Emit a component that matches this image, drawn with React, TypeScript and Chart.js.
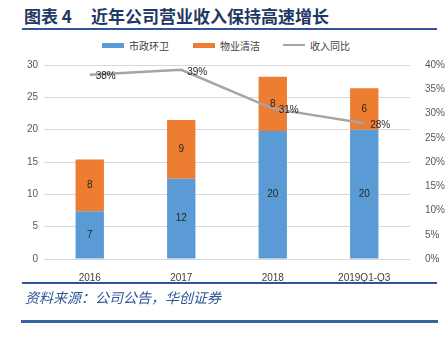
import React, { useEffect, useRef } from "react";
import { Chart, registerables } from "chart.js";

Chart.register(...registerables);

const categories = ["2016", "2017", "2018", "2019Q1-Q3"];
const municipalValues = [7.4, 12.4, 19.8, 20.0];
const propertyValues = [8.0, 9.1, 8.4, 6.4];
const growthValues = [38, 39, 31, 28];
const leftTicks = [0, 5, 10, 15, 20, 25, 30];
const rightTicks = [0, 5, 10, 15, 20, 25, 30, 35, 40];
const seriesNames = ["市政环卫", "物业清洁", "收入同比"];

const BLUE = "#5B9BD5";
const ORANGE = "#ED7D31";
const GRAY = "#A5A5A5";
const FONT = "'Liberation Sans', 'Noto Sans CJK SC', sans-serif";

const labelPlugin = {
  id: "labels",
  afterDatasetsDraw(chart: any) {
    const ctx = chart.ctx;
    ctx.save();
    ctx.font = `10px ${FONT}`;
    ctx.fillStyle = "#262626";
    chart.data.datasets.forEach((ds: any, di: number) => {
      const meta = chart.getDatasetMeta(di);
      meta.data.forEach((el: any, i: number) => {
        const v = ds.data[i];
        if (ds.type === "line") {
          ctx.textAlign = "left";
          ctx.textBaseline = "middle";
          ctx.fillText(Math.round(v) + "%", el.x + 6, el.y + 2);
        } else {
          const props = el.getProps(["x", "y", "base"], true);
          ctx.textAlign = "center";
          ctx.textBaseline = "middle";
          ctx.fillText(String(Math.round(v)), props.x, (props.y + props.base) / 2);
        }
      });
    });
    ctx.restore();
  },
};

export default function App() {
  const ref = useRef<HTMLCanvasElement>(null);
  useEffect(() => {
    document.body.style.margin = "0";
    const chart = new Chart(ref.current!, {
      type: "bar",
      data: {
        labels: categories,
        datasets: [
          {
            type: "line",
            label: seriesNames[2],
            data: growthValues,
            yAxisID: "y1",
            borderColor: GRAY,
            backgroundColor: GRAY,
            borderWidth: 2.5,
            pointRadius: 0,
            tension: 0,
            order: 0,
          } as any,
          {
            type: "bar",
            label: seriesNames[0],
            data: municipalValues,
            backgroundColor: BLUE,
            yAxisID: "y",
            stack: "s",
            barPercentage: 0.62,
            categoryPercentage: 0.5,
            order: 1,
          },
          {
            type: "bar",
            label: seriesNames[1],
            data: propertyValues,
            backgroundColor: ORANGE,
            yAxisID: "y",
            stack: "s",
            barPercentage: 0.62,
            categoryPercentage: 0.5,
            order: 1,
          },
        ],
      },
      options: {
        animation: false,
        responsive: false,
        maintainAspectRatio: false,
        layout: { padding: { top: 10, left: 0, right: 0, bottom: 0 } },
        plugins: { legend: { display: false }, tooltip: { enabled: false } },
        scales: {
          x: {
            stacked: true,
            grid: { display: false },
            border: { display: false },
            ticks: { color: "#404040", font: { size: 10, family: FONT }, padding: 5 },
            afterFit: (s: any) => { s.height = 29; },
          },
          y: {
            stacked: true,
            min: 0,
            max: 30,
            position: "left",
            afterBuildTicks: (s: any) => { s.ticks = leftTicks.map((v) => ({ value: v })); },
            ticks: { color: "#595959", font: { size: 10, family: FONT }, padding: 6 },
            grid: { color: "#D9D9D9", drawTicks: false, lineWidth: 1 },
            border: { display: false },
            afterFit: (s: any) => { s.width = 44; },
          },
          y1: {
            min: 0,
            max: 40,
            position: "right",
            afterBuildTicks: (s: any) => { s.ticks = rightTicks.map((v) => ({ value: v })); },
            ticks: { color: "#595959", font: { size: 10, family: FONT }, padding: 7, callback: (v: any) => v + "%" },
            grid: { display: false },
            border: { display: false },
            afterFit: (s: any) => { s.width = 36; },
          },
        },
      },
      plugins: [labelPlugin],
    });
    return () => chart.destroy();
  }, []);

  const legendItem = (color: string, name: string, isLine: boolean, left: number) => (
    <div style={{ position: "absolute", left, top: 38, height: 14, display: "flex", alignItems: "center", fontSize: 10, color: "#404040", fontFamily: "'Noto Sans CJK SC', sans-serif" }}>
      <div style={{ width: 22, height: isLine ? 2 : 5, background: color, marginRight: 5 }} />
      <span>{name}</span>
    </div>
  );

  const titleStyle: React.CSSProperties = { position: "absolute", top: 5, fontSize: 17, fontWeight: 700, color: "#1F3864", fontFamily: "'Noto Sans CJK SC', serif", whiteSpace: "pre", lineHeight: "22px" };

  return (
    <div style={{ position: "fixed", left: 0, top: 0, width: 446, height: 338, background: "#fff", overflow: "hidden" }}>
      <div style={{ ...titleStyle, left: 24 }}>图表 4</div>
      <div style={{ ...titleStyle, left: 91 }}>近年公司营业收入保持高速增长</div>
      <div style={{ position: "absolute", left: 22, top: 28, width: 415, height: 2, background: "#2F5597" }} />
      {legendItem(BLUE, seriesNames[0], false, 102)}
      {legendItem(ORANGE, seriesNames[1], false, 193)}
      {legendItem(GRAY, seriesNames[2], true, 283)}
      <div style={{ position: "absolute", left: 0, top: 52 }}>
        <canvas ref={ref} width={446} height={236} style={{ display: "block", width: 446, height: 236 }} />
      </div>
      <div style={{ position: "absolute", left: 22, top: 282, width: 415, height: 2, background: "#2F5597" }} />
      <div style={{ position: "absolute", left: 25, top: 288, fontSize: 14, fontStyle: "italic", color: "#2F5597", fontFamily: "'Noto Sans CJK SC', serif", lineHeight: "18px" }}>
        资料来源：公司公告，华创证券
      </div>
      <div style={{ position: "absolute", left: 21, top: 320, width: 417, height: 3, background: "#3A62A0" }} />
    </div>
  );
}
